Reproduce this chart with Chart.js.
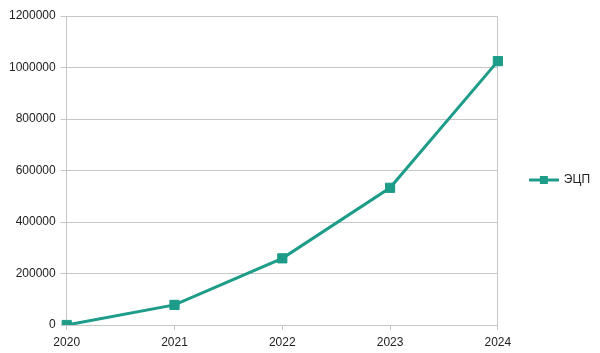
<!DOCTYPE html>
<html>
<head>
<meta charset="utf-8">
<script src="https://cdn.jsdelivr.net/npm/chart.js@4/dist/chart.umd.min.js"></script>
<style>
    html, body { margin: 0; padding: 0; background: #fff; }
    #wrap { width: 600px; height: 353px; }
</style>
</head>
<body>
<div id="wrap"><canvas id="sigChart"></canvas></div>
<script>
// Data
const years = ['2020', '2021', '2022', '2023', '2024'];
const sigCounts = [0, 78000, 259000, 533000, 1025000];
const seriesName = 'ЭЦП';
const yMin = 0;
const yMax = 1200000;
const yStep = 200000;

const teal = '#1c9c89';
const gridGray = '#c6c6c6';

// Legend marker: a short line with a square in the middle
const legendIcon = document.createElement('canvas');
legendIcon.width = 30;
legendIcon.height = 10;
const ictx = legendIcon.getContext('2d');
ictx.strokeStyle = teal;
ictx.lineWidth = 3;
ictx.beginPath();
ictx.moveTo(0, 5);
ictx.lineTo(30, 5);
ictx.stroke();
ictx.fillStyle = teal;
ictx.fillRect(11, 1, 8, 8);

Chart.defaults.font.family = '"Liberation Sans", Arial, sans-serif';
Chart.defaults.font.size = 12;
Chart.defaults.color = '#222';

const ctx = document.getElementById('sigChart');
new Chart(ctx, {
    type: 'line',
    data: {
        labels: years,
        datasets: [{
            label: seriesName,
            data: sigCounts,
            borderColor: teal,
            backgroundColor: teal,
            borderWidth: 3,
            pointStyle: 'rect',
            pointRadius: 6.5,
            pointBorderWidth: 1,
            pointBackgroundColor: teal,
            pointBorderColor: teal,
            tension: 0
        }]
    },
    options: {
        responsive: true,
        maintainAspectRatio: false,
        animation: false,
        layout: { padding: { top: 4, right: 0, bottom: -3, left: 4 } },
        plugins: {
            tooltip: { enabled: false },
            legend: {
                position: 'right',
                labels: {
                    usePointStyle: true,
                    pointStyle: legendIcon,
                    pointStyleWidth: 28,
                    padding: 32,
                    color: '#222'
                }
            }
        },
        scales: {
            x: {
                offset: false,
                grid: {
                    color: c => c.index === years.length - 1 ? gridGray : 'transparent',
                    tickColor: gridGray,
                    tickLength: 5
                },
                border: { color: gridGray },
                ticks: { padding: 7, maxRotation: 0, font: { lineHeight: 1 } }
            },
            y: {
                min: yMin,
                max: yMax,
                grid: { color: gridGray, tickColor: gridGray, tickLength: 6 },
                border: { color: gridGray },
                ticks: {
                    stepSize: yStep,
                    padding: 5,
                    // tall line box keeps room above the top label
                    font: { lineHeight: 1.85 },
                    callback: v => String(v)
                }
            }
        }
    }
});
</script>
</body>
</html>
